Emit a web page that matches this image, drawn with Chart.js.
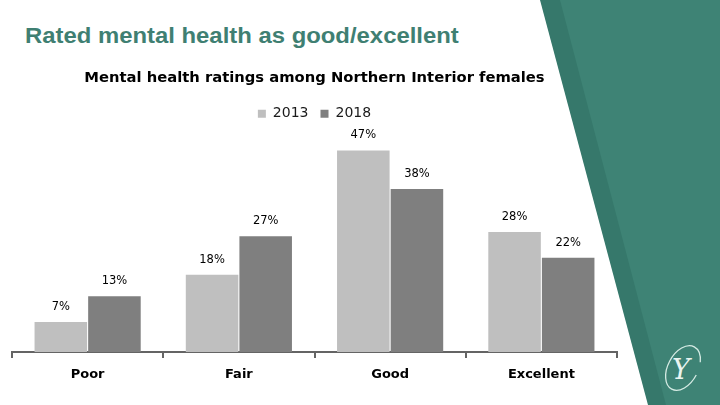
<!DOCTYPE html>
<html>
<head>
<meta charset="utf-8">
<script src="https://cdn.jsdelivr.net/npm/chart.js@4.4.0/dist/chart.umd.min.js"></script>
<style>
html,body{margin:0;padding:0;background:#ffffff;width:720px;height:405px;overflow:hidden;}
#deco{position:absolute;left:0;top:0;}
#slideTitle{position:absolute;left:25px;top:25.4px;font-family:"Liberation Sans",Arial,sans-serif;font-weight:bold;font-size:22px;line-height:1;color:#3F7F72;transform:scaleX(1.085);transform-origin:0 0;white-space:nowrap;}
#chart{position:absolute;left:0;top:0;}
</style>
</head>
<body>
<svg id="deco" width="720" height="405">
  <polygon points="540,0 720,0 720,405 648,405" fill="#36786B"/>
  <polygon points="560,0 720,0 720,405 666,405" fill="#3E8375"/>
  <g transform="rotate(28 683 368)">
    <ellipse cx="683" cy="368" rx="15" ry="24" fill="none" stroke="#d5ebe4" stroke-width="1.3" stroke-dasharray="110 20"/>
  </g>
  <text x="681" y="379" font-family="DejaVu Serif" font-style="italic" font-size="27" fill="#eaf5f1" text-anchor="middle">Y</text>
</svg>
<div id="slideTitle">Rated mental health as good/excellent</div>
<canvas id="chart" width="720" height="405"></canvas>
<script>
const chartTitle = 'Mental health ratings among Northern Interior females';
const categories = ['Poor', 'Fair', 'Good', 'Excellent'];
const seriesNames = ['2013', '2018'];
const values2013 = [7, 18, 47, 28];
const values2018 = [13, 27, 38, 22];
const seriesColors = ['#BFBFBF', '#7F7F7F'];

const dataLabels = {
  id: 'dataLabels',
  afterDatasetsDraw(chart) {
    const ctx = chart.ctx;
    ctx.save();
    ctx.font = '11.5px "DejaVu Sans"';
    ctx.fillStyle = '#000000';
    ctx.textAlign = 'center';
    ctx.textBaseline = 'middle';
    chart.data.datasets.forEach((ds, i) => {
      chart.getDatasetMeta(i).data.forEach((bar, j) => {
        ctx.fillText(ds.data[j] + '%', bar.x, bar.y - 15);
      });
    });
    ctx.restore();
  }
};

new Chart(document.getElementById('chart'), {
  type: 'bar',
  data: {
    labels: categories,
    datasets: [
      { label: seriesNames[0], data: values2013, backgroundColor: seriesColors[0], borderWidth: 0, categoryPercentage: 0.709, barPercentage: 0.98 },
      { label: seriesNames[1], data: values2018, backgroundColor: seriesColors[1], borderWidth: 0, categoryPercentage: 0.709, barPercentage: 0.98 }
    ]
  },
  options: {
    responsive: false,
    devicePixelRatio: 1,
    animation: false,
    layout: { padding: { left: 12, right: 103, top: 60, bottom: 13.4 } },
    plugins: {
      title: {
        display: true,
        text: chartTitle,
        color: '#000000',
        font: { family: 'DejaVu Sans', size: 14.75, weight: 'bold' },
        padding: { top: 9.2, bottom: 7.85 }
      },
      legend: {
        display: true,
        position: 'top',
        labels: {
          boxWidth: 8, boxHeight: 8, padding: 12,
          color: '#1a1a1a',
          font: { family: 'DejaVu Sans', size: 14 }
        }
      },
      tooltip: { enabled: false }
    },
    scales: {
      x: {
        grid: { offset: true, drawOnChartArea: false, drawTicks: true, tickLength: 6, color: '#646464', lineWidth: 2 },
        border: { display: true, color: '#646464', width: 2 },
        ticks: { color: '#000000', padding: 9, font: { family: 'DejaVu Sans', size: 13, weight: 'bold' } }
      },
      y: { display: false, min: 0, max: 51.6 }
    }
  },
  plugins: [dataLabels]
});
</script>
</body>
</html>
